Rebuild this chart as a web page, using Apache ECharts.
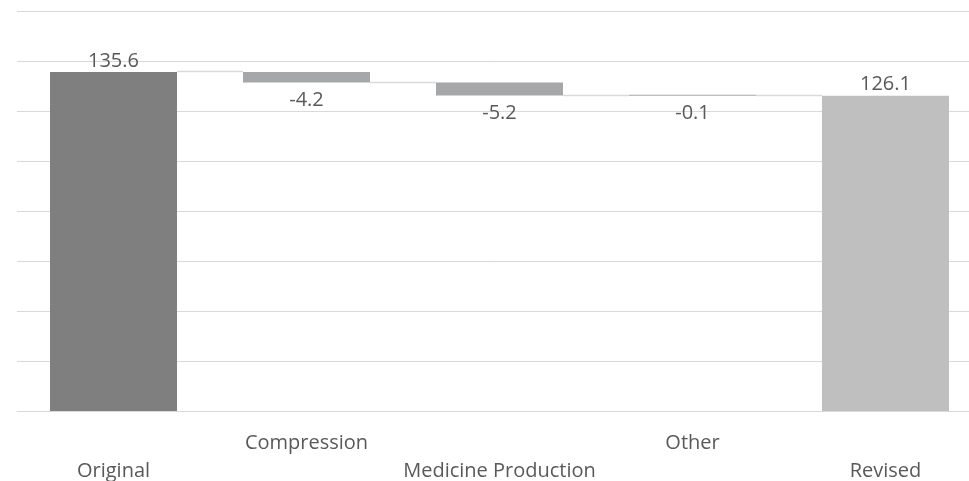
<!DOCTYPE html>
<html>
<head>
<meta charset="utf-8">
<script src="https://cdn.jsdelivr.net/npm/echarts@6/dist/echarts.min.js"></script>
<style>
  html, body { margin: 0; padding: 0; background: #ffffff; }
  #chart { width: 969px; height: 481px; }
</style>
</head>
<body>
<div id="chart"></div>
<script>
// Waterfall: starting total, three reductions, revised total
const categories = ['Original', 'Compression', 'Medicine Production', 'Other', 'Revised'];
const startValue = 135.6;
const changes = [-4.2, -5.2, -0.1];
const endValue = 126.1;
const yTicks = [0, 20, 40, 60, 80, 100, 120, 140, 160];

// Running totals after each step
const levels = [startValue];
changes.forEach(c => levels.push(+(levels[levels.length - 1] + c).toFixed(1)));

const baseData = ['-'];
const decreaseData = ['-'];
changes.forEach((c, i) => {
  baseData.push(levels[i + 1]);
  decreaseData.push(Math.abs(c));
});
baseData.push('-');
decreaseData.push('-');

const totalData = [
  { value: startValue, itemStyle: { color: '#7f7f7f' } },
  '-', '-', '-',
  { value: endValue, itemStyle: { color: '#bfbfbf' } }
];

// Connector levels between neighbouring bars
const connectorData = [levels[0], levels[1], levels[2], levels[3]].map((v, i) => [i, v]);

const BAR_RATIO = 0.658;
const FONT = '"Open Sans", sans-serif';
const TEXT = '#595959';
const FS = 20;

const chart = echarts.init(document.getElementById('chart'));
chart.setOption({
  animation: false,
  grid: { left: 17, top: 11, width: 965, height: 400, containLabel: false, outerBoundsMode: 'none' },
  xAxis: {
    type: 'category',
    data: categories,
    axisLine: { show: true, lineStyle: { color: '#d9d9d9', width: 1 } },
    axisTick: { show: false },
    axisLabel: {
      interval: 0,
      color: TEXT,
      fontFamily: FONT,
      fontSize: FS,
      lineHeight: 28,
      margin: 18,
      formatter: (v, i) => (i % 2 === 0 ? '\n' + v : v)
    }
  },
  yAxis: {
    type: 'value',
    min: yTicks[0],
    max: yTicks[yTicks.length - 1],
    interval: yTicks[1] - yTicks[0],
    axisLabel: { show: false },
    axisLine: { show: false },
    axisTick: { show: false },
    splitLine: { lineStyle: { color: '#d9d9d9', width: 1 } }
  },
  series: [
    {
      name: 'base',
      type: 'bar',
      stack: 'wf',
      barWidth: (BAR_RATIO * 100) + '%',
      itemStyle: { color: 'transparent' },
      emphasis: { disabled: true },
      data: baseData
    },
    {
      name: 'decrease',
      type: 'bar',
      stack: 'wf',
      barWidth: (BAR_RATIO * 100) + '%',
      barMinHeight: 1,
      itemStyle: { color: '#a5a7a9' },
      label: {
        show: true,
        position: 'bottom',
        distance: 8,
        color: TEXT,
        fontFamily: FONT,
        fontSize: FS,
        formatter: p => '-' + p.value
      },
      data: decreaseData
    },
    {
      name: 'total',
      type: 'bar',
      stack: 'wf',
      barWidth: (BAR_RATIO * 100) + '%',
      label: {
        show: true,
        position: 'top',
        distance: 1,
        color: TEXT,
        fontFamily: FONT,
        fontSize: FS
      },
      data: totalData
    },
    {
      name: 'connector',
      type: 'custom',
      silent: true,
      z: 1,
      renderItem: (params, api) => {
        const pt = api.coord([api.value(0), api.value(1)]);
        const band = api.size([1, 0])[0];
        const half = band * BAR_RATIO / 2;
        const y = Math.round(pt[1]) - 0.5;
        return {
          type: 'line',
          shape: { x1: pt[0] + half, y1: y, x2: pt[0] + band - half, y2: y },
          style: { stroke: '#d9d9d9', lineWidth: 1.5 }
        };
      },
      data: connectorData
    }
  ]
});
</script>
</body>
</html>
